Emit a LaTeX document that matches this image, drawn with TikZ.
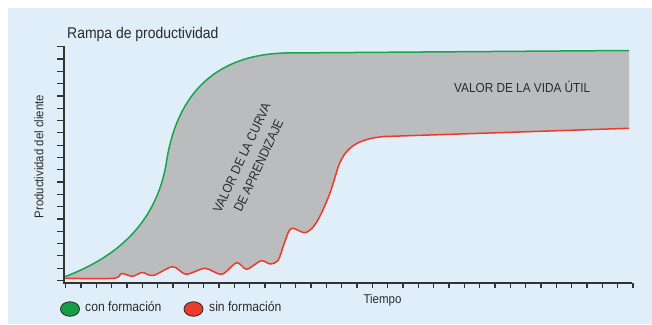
\documentclass[tikz,border=0pt]{standalone}
\usepackage{fontspec}
\setmainfont[FakeStretch=0.9]{Liberation Sans}
\usetikzlibrary{shapes.geometric}

\definecolor{bgblue}{HTML}{E0EEF9}
\definecolor{areagrey}{HTML}{BBBCBE}
\definecolor{axisgrey}{HTML}{333333}
\definecolor{textgrey}{HTML}{2B2B2B}
\definecolor{congreen}{HTML}{16A64B}
\definecolor{sinred}{HTML}{EE3A2A}

\tikzset{
	axisline/.style = {draw=axisgrey, line width=1.4pt},
	curve/.style = {line width=1.5pt, line join=round},
	lbl/.style = {text=textgrey, inner sep=0pt},
	key/.style = {ellipse, draw=black!85, line width=0.8pt, minimum width=19pt, minimum height=14.5pt, inner sep=0pt}
}

% sin formacion curve
\def\redpath{plot[smooth] coordinates {(64,278.3) (113.3,278.3) (121.7,273.5) (132.3,276.3) (142.3,272.5) (153.3,275.5) (172.7,266.7) (186,274.3) (205,268.3) (221.7,274.3) (236.7,262.7) (246.7,269.3) (261,260.7) (270,264) (278,260.5) (284,244) (289,231) (293.3,228.3) (305,232.7) (314,226) (322,212) (330,193) (336,174)} .. controls (342,152) and (352,139) .. (385,136.5) -- (629,128.3)}

\begin{document}
\begin{tikzpicture}[x=1pt,y=-1pt]
\useasboundingbox (0,0) rectangle (652,324);
\fill[bgblue] (8,8) rectangle (652,324);

% area between the two curves
\fill[areagrey] \redpath -- (629,50.5) -- (285,53) .. controls (210,55) and (175,100) .. (166,165) .. controls (155,225) and (115,258) .. (64,277) -- cycle;

% con formacion curve
\draw[curve, congreen] (64,277) .. controls (115,258) and (155,225) .. (166,165) .. controls (175,100) and (210,55) .. (285,53) -- (629,50.5);
\draw[curve, sinred] \redpath;

% axes
\draw[axisline] (64,46) -- (64,283) -- (632,283);
\foreach \k in {0,...,19}
	\draw[axisline, line width=1.2pt] (57,46.7+12.3*\k) -- (64,46.7+12.3*\k);
\foreach \k in {0,...,37}
	\draw[axisline, line width=1.2pt] (65.7+15.33*\k,283) -- (65.7+15.33*\k,288);

% texts
\node[lbl, anchor=base west, font=\fontsize{15.5}{18}\selectfont] (title) at (67,38.7) {Rampa de productividad};
\node[lbl, anchor=base west, rotate=90, font=\fontsize{12.6}{15}\selectfont] (ylabel) at (43.3,218.3) {Productividad del cliente};
\node[lbl, anchor=base west, font=\fontsize{12.8}{15}\selectfont] (xlabel) at (363.3,303.3) {Tiempo};
\node[lbl, anchor=base west, font=\fontsize{13.1}{15}\selectfont] (vida) at (454,92.7) {VALOR DE LA VIDA ÚTIL};
\node[lbl, rotate=65, align=center, font=\fontsize{13}{18.5}\selectfont] (curva) at (250.2,161.8) {VALOR DE LA CURVA\\DE APRENDIZAJE};

% legend
\node[key, fill=congreen!95!black] (kcon) at (70,309) {};
\node[lbl, anchor=base west, font=\fontsize{13.5}{15}\selectfont] (tcon) at (85,311.7) {con formación};
\node[key, fill=sinred] (ksin) at (193.5,309) {};
\node[lbl, anchor=base west, font=\fontsize{13.5}{15}\selectfont] (tsin) at (209,311.7) {sin formación};
\end{tikzpicture}
\end{document}
